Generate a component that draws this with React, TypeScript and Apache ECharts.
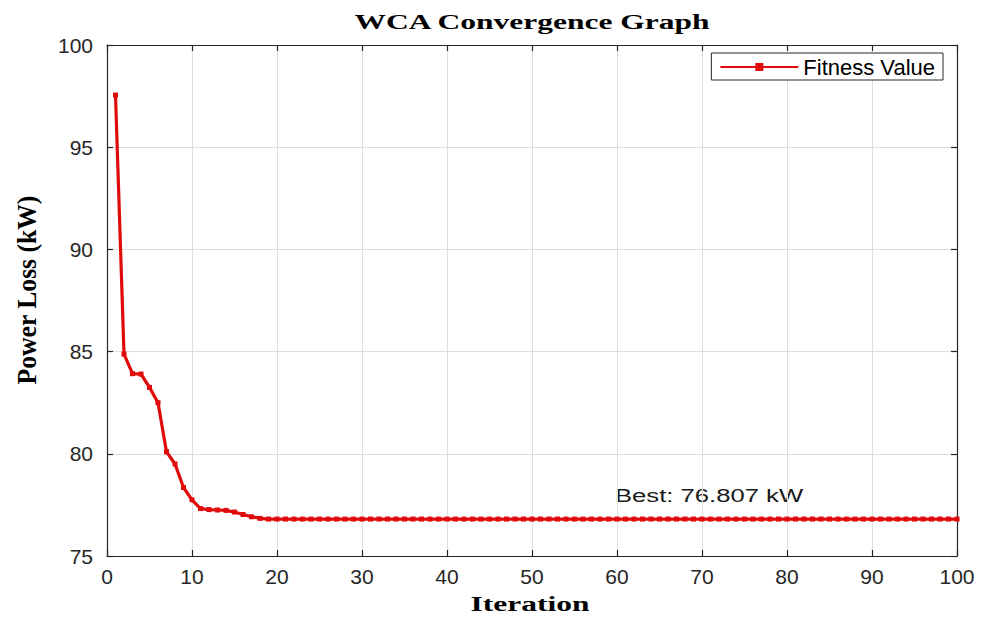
import React, { useEffect, useRef } from "react";
import * as echarts from "echarts";

const iterations: number[] = [
  1, 2, 3, 4, 5, 6, 7, 8, 9, 10, 11, 12, 13, 14, 15, 16, 17, 18, 19, 20,
  21, 22, 23, 24, 25, 26, 27, 28, 29, 30, 31, 32, 33, 34, 35, 36, 37, 38, 39, 40,
  41, 42, 43, 44, 45, 46, 47, 48, 49, 50, 51, 52, 53, 54, 55, 56, 57, 58, 59, 60,
  61, 62, 63, 64, 65, 66, 67, 68, 69, 70, 71, 72, 73, 74, 75, 76, 77, 78, 79, 80,
  81, 82, 83, 84, 85, 86, 87, 88, 89, 90, 91, 92, 93, 94, 95, 96, 97, 98, 99, 100,
];

const fitness: number[] = [
  97.55, 84.88, 83.92, 83.9, 83.25, 82.5, 80.1, 79.5, 78.35, 77.75,
  77.32, 77.27, 77.25, 77.23, 77.15, 77.03, 76.92, 76.84, 76.807, 76.807,
  76.807, 76.807, 76.807, 76.807, 76.807, 76.807, 76.807, 76.807, 76.807, 76.807,
  76.807, 76.807, 76.807, 76.807, 76.807, 76.807, 76.807, 76.807, 76.807, 76.807,
  76.807, 76.807, 76.807, 76.807, 76.807, 76.807, 76.807, 76.807, 76.807, 76.807,
  76.807, 76.807, 76.807, 76.807, 76.807, 76.807, 76.807, 76.807, 76.807, 76.807,
  76.807, 76.807, 76.807, 76.807, 76.807, 76.807, 76.807, 76.807, 76.807, 76.807,
  76.807, 76.807, 76.807, 76.807, 76.807, 76.807, 76.807, 76.807, 76.807, 76.807,
  76.807, 76.807, 76.807, 76.807, 76.807, 76.807, 76.807, 76.807, 76.807, 76.807,
  76.807, 76.807, 76.807, 76.807, 76.807, 76.807, 76.807, 76.807, 76.807, 76.807,
];

const chartTitle = "WCA Convergence Graph";
const xAxisName = "Iteration";
const yAxisName = "Power Loss (kW)";
const seriesName = "Fitness Value";
const bestLabel = "Best: 76.807 kW";

const AXIS_COLOR = "#262626";
const GRID_COLOR = "#dedede";
const LINE_COLOR = "#e00a0a";
const SANS = "'Liberation Sans', Arial, sans-serif";
const SERIF = "'Liberation Serif', 'Times New Roman', serif";

export default function App() {
  const ref = useRef<HTMLDivElement>(null);

  useEffect(() => {
    if (!ref.current) return;
    const chart = echarts.init(ref.current, undefined, { renderer: "svg" });
    const data = iterations.map((it, i) => [it, fitness[i]]);

    const axisCommon = {
      axisLine: { show: true, onZero: false, lineStyle: { color: AXIS_COLOR, width: 1.2 } },
      axisTick: { show: true, inside: true, length: 6, lineStyle: { color: AXIS_COLOR, width: 1.2 } },
    };

    chart.setOption({
      animation: false,
      backgroundColor: "#ffffff",
      grid: { left: 107, right: 24, top: 45, bottom: 61, containLabel: false },
      legend: {
        data: [seriesName],
        right: 38,
        top: 53,
        itemWidth: 78,
        itemHeight: 10,
        itemGap: 4,
        padding: [3, 8, 2, 8],
        borderColor: AXIS_COLOR,
        borderWidth: 1,
        backgroundColor: "#ffffff",
        textStyle: { color: "#000000", fontFamily: SANS, fontSize: 22 },
      },
      xAxis: [
        {
          type: "value",
          min: 0,
          max: 100,
          interval: 10,
          ...axisCommon,
          axisLabel: { color: AXIS_COLOR, fontFamily: SANS, fontSize: 21, margin: 10 },
          splitLine: { show: true, lineStyle: { color: GRID_COLOR, width: 1 } },
        },
        {
          type: "value",
          position: "top",
          min: 0,
          max: 100,
          interval: 10,
          ...axisCommon,
          axisLabel: { show: false },
          splitLine: { show: false },
        },
      ],
      yAxis: [
        {
          type: "value",
          min: 75,
          max: 100,
          interval: 5,
          ...axisCommon,
          axisLabel: { color: AXIS_COLOR, fontFamily: SANS, fontSize: 21, margin: 14 },
          splitLine: { show: true, lineStyle: { color: GRID_COLOR, width: 1 } },
        },
        {
          type: "value",
          position: "right",
          min: 75,
          max: 100,
          interval: 5,
          ...axisCommon,
          axisLabel: { show: false },
          splitLine: { show: false },
        },
      ],
      series: [
        {
          name: seriesName,
          type: "line",
          data,
          xAxisIndex: 0,
          yAxisIndex: 0,
          symbol: "rect",
          symbolSize: 5,
          showSymbol: true,
          itemStyle: { color: LINE_COLOR },
          lineStyle: { color: LINE_COLOR, width: 3.2 },
        },
      ],
      graphic: [
        {
          type: "text",
          x: 532,
          y: 22,
          scaleX: 1.5,
          style: {
            text: chartTitle,
            fontFamily: SERIF,
            fontWeight: "bold",
            fontSize: 21,
            fill: "#000000",
            textAlign: "center",
            textVerticalAlign: "middle",
          },
        },
        {
          type: "text",
          x: 530,
          y: 604,
          scaleX: 1.5,
          style: {
            text: xAxisName,
            fontFamily: SERIF,
            fontWeight: "bold",
            fontSize: 21,
            fill: "#000000",
            textAlign: "center",
            textVerticalAlign: "middle",
          },
        },
        {
          type: "text",
          x: 27,
          y: 290,
          rotation: Math.PI / 2,
          scaleX: 1.22,
          scaleY: 1.3,
          style: {
            text: yAxisName,
            fontFamily: SERIF,
            fontWeight: "bold",
            fontSize: 21,
            fill: "#000000",
            textAlign: "center",
            textVerticalAlign: "middle",
          },
        },
        {
          type: "text",
          x: 615,
          y: 496,
          scaleX: 1.35,
          style: {
            text: bestLabel,
            fontFamily: SANS,
            fontSize: 19,
            fill: "#1a1a1a",
            textAlign: "left",
            textVerticalAlign: "middle",
          },
        },
      ],
    });

    return () => chart.dispose();
  }, []);

  return (
    <div
      ref={ref}
      style={{ position: "absolute", left: 0, top: 0, width: 981, height: 617 }}
    />
  );
}
